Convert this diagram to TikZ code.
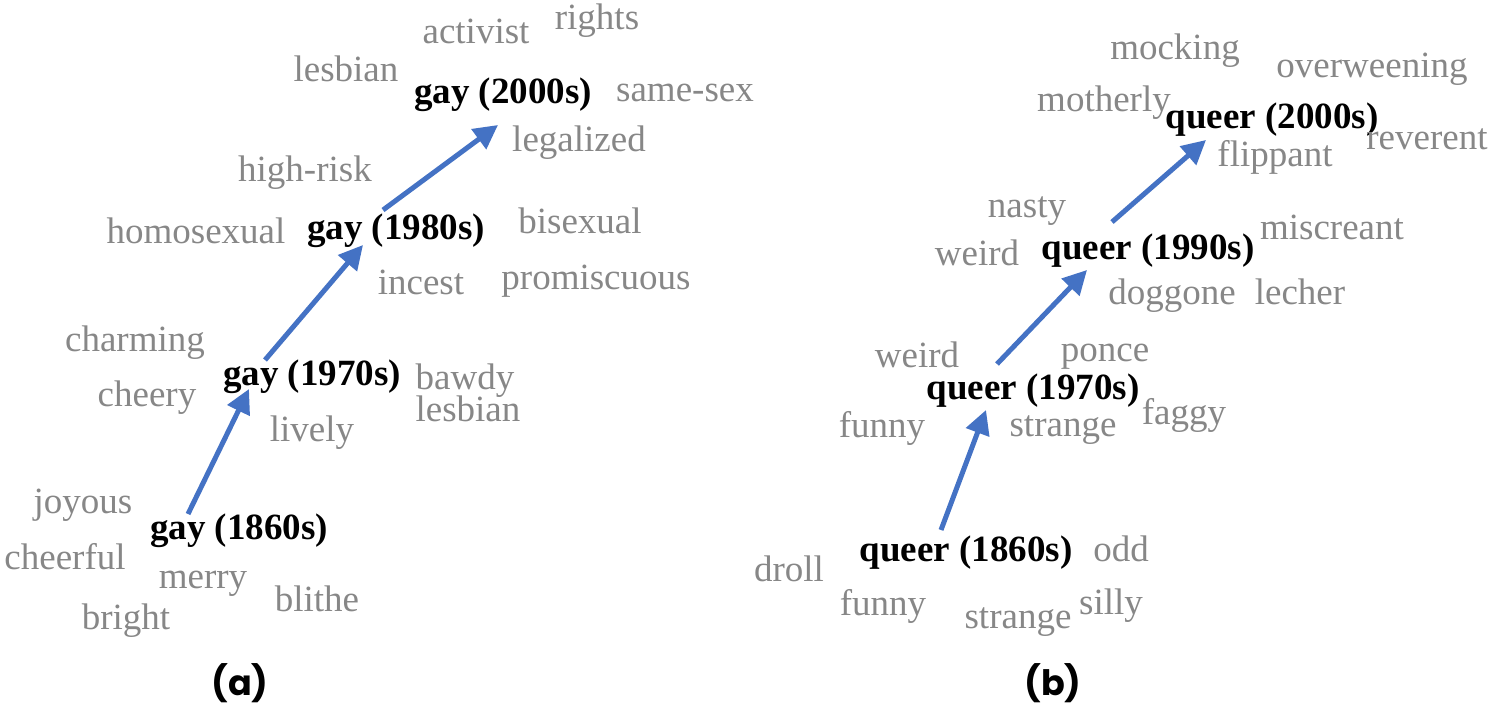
\documentclass[tikz,border=0pt]{standalone}
\usepackage{fontspec}
\setmainfont{Liberation Serif}
\newfontfamily\labfont{Poppins}
\usetikzlibrary{arrows.meta}
\definecolor{wgray}{RGB}{135,135,135}
\definecolor{arrblue}{RGB}{68,114,196}
\tikzset{
  w/.style={text=wgray, font=\fontsize{37}{40}\selectfont, inner sep=0pt, text height=1ex, text depth=0pt, anchor=center, yshift=-9pt},
  key/.style={text=black, font=\fontsize{37}{40}\selectfont\bfseries, inner sep=0pt, text height=1ex, text depth=0pt, anchor=center, yshift=-9pt},
  panellabel/.style={text=black, font=\fontsize{35}{40}\selectfont\labfont\bfseries, inner sep=0pt, anchor=center},
  arr/.style={draw=arrblue, line width=5pt, -{Triangle[length=24pt,width=24pt]}}
}
\begin{document}
\begin{tikzpicture}[x=1pt,y=-1pt]
\useasboundingbox (0,0) rectangle (1489,706);
% panel a
\node[w] (a1) at (476,32) {activist};
\node[w] (a2) at (597,18) {rights};
\node[w] (a3) at (346,70) {lesbian};
\node[key] (g2000) at (503,92) {gay (2000s)};
\node[w] (a4) at (685,90) {same-sex};
\node[w] (a5) at (579,140) {legalized};
\node[w] (a6) at (305,170) {high-risk};
\node[w] (a7) at (196,232) {homosexual};
\node[key] (g1980) at (396,228) {gay (1980s)};
\node[w] (a8) at (580,222) {bisexual};
\node[w] (a9) at (421,283) {incest};
\node[w] (a10) at (596,278) {promiscuous};
\node[w] (a11) at (135,340) {charming};
\node[key] (g1970) at (312,374) {gay (1970s)};
\node[w] (a12) at (465,378) {bawdy};
\node[w] (a13) at (147,395) {cheery};
\node[w] (a14) at (468,410) {lesbian};
\node[w] (a15) at (312,430) {lively};
\node[w] (a16) at (83,502) {joyous};
\node[key] (g1860) at (239,528) {gay (1860s)};
\node[w] (a17) at (65,558) {cheerful};
\node[w] (a18) at (203,577) {merry};
\node[w] (a19) at (317,600) {blithe};
\node[w] (a20) at (126,618) {bright};
\node[panellabel] (capa) at (240,683) {(a)};
\coordinate (s1) at (188,514);
\coordinate (e1) at (249,389);
\coordinate (s2) at (265,360);
\coordinate (e2) at (363,245);
\coordinate (s3) at (383,210);
\coordinate (e3) at (498,125);
\draw[arr] (s1) -- (e1);
\draw[arr] (s2) -- (e2);
\draw[arr] (s3) -- (e3);
% panel b
\node[w] (b1) at (1175,48) {mocking};
\node[w] (b2) at (1372,66) {overweening};
\node[w] (b3) at (1104,100) {motherly};
\node[key] (q2000) at (1272,117) {queer (2000s)};
\node[w] (b4) at (1427,138) {reverent};
\node[w] (b5) at (1275,155) {flippant};
\node[w] (b6) at (1027,206) {nasty};
\node[w] (b7) at (1332,228) {miscreant};
\node[w] (b8) at (977,254) {weird};
\node[key] (q1990) at (1148,248) {queer (1990s)};
\node[w] (b9) at (1172,293) {doggone};
\node[w] (b10) at (1300,293) {lecher};
\node[w] (b11) at (917,356) {weird};
\node[w] (b12) at (1105,350) {ponce};
\node[key] (q1970) at (1033,388) {queer (1970s)};
\node[w] (b13) at (882,426) {funny};
\node[w] (b14) at (1063,425) {strange};
\node[w] (b15) at (1184,413) {faggy};
\node[key] (q1860) at (966,550) {queer (1860s)};
\node[w] (b16) at (1121,550) {odd};
\node[w] (b17) at (789,570) {droll};
\node[w] (b18) at (883,604) {funny};
\node[w] (b19) at (1018,617) {strange};
\node[w] (b20) at (1111,603) {silly};
\node[panellabel] (capb) at (1053,683) {(b)};
\coordinate (t1) at (941,530);
\coordinate (f1) at (986,410);
\coordinate (t2) at (997,364);
\coordinate (f2) at (1087,270);
\coordinate (t3) at (1112,222);
\coordinate (f3) at (1206,140);
\draw[arr] (t1) -- (f1);
\draw[arr] (t2) -- (f2);
\draw[arr] (t3) -- (f3);
\end{tikzpicture}
\end{document}
